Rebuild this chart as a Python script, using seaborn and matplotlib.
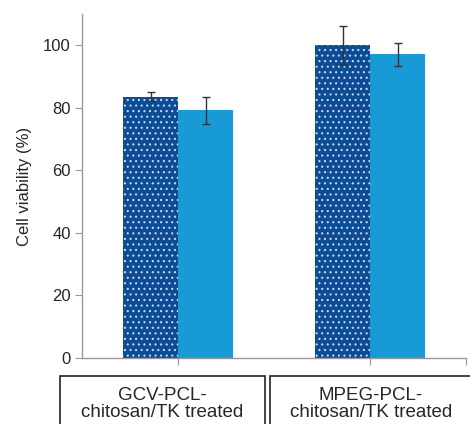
import numpy as np
import pandas as pd
import matplotlib
matplotlib.use("Agg")
from matplotlib import pyplot as plt
from matplotlib.patches import Rectangle
import seaborn as sns

groups = ["GCV-PCL-\nchitosan/TK treated", "MPEG-PCL-\nchitosan/TK treated"]
series = ["A", "B"]
values_a = [83.6, 100.0]
values_b = [79.2, 97.1]
err_a = [1.4, 6.3]
err_b = [4.3, 3.6]

df = pd.DataFrame({
    "group": groups * 2,
    "series": [series[0]] * 2 + [series[1]] * 2,
    "value": values_a + values_b,
    "err": err_a + err_b,
})

sns.set_style("white")
plt.rcParams['font.family'] = ['Liberation Sans', 'DejaVu Sans']
plt.rcParams['hatch.linewidth'] = 0.8

fig = plt.figure(figsize=(4.7, 4.24), dpi=100)
ax = fig.add_axes([0.1745, 0.1557, 0.817, 0.8113])

colors = ["#0B4C95", "#189AD6"]
sns.barplot(data=df, x="group", y="value", hue="series", palette=colors,
            width=0.573, errorbar=None, legend=False, ax=ax, saturation=1)

# 点状图案 + 误差线
bar_conts = list(ax.containers)
for i, cont in enumerate(bar_conts):
    sub = df[df["series"] == series[i]]
    xs = [p.get_x() + p.get_width() / 2 for p in cont.patches]
    for p in cont.patches:
        p.set_linewidth(0)
        if i == 0:
            p.set_hatch("...")
            p.set_edgecolor("#c8d6ea")
    ax.errorbar(xs, sub["value"].values, yerr=sub["err"].values, fmt="none",
                ecolor="#333333", elinewidth=1, capsize=3, capthick=1)

ax.set_ylim(0, 110)
ax.set_xlim(-0.5, 1.5)
ax.set_yticks([0, 20, 40, 60, 80, 100])
ax.set_xticks([0, 1, 1.5])
ax.set_xticklabels([])
ax.set_xlabel("")
ax.set_ylabel("Cell viability (%)", fontsize=12, labelpad=8)
ax.tick_params(axis="y", labelsize=12, length=5, color="#999999", left=True, pad=3)
ax.tick_params(axis="x", length=5, color="#999999", bottom=True)
for s in ["top", "right"]:
    ax.spines[s].set_visible(False)
for s in ["left", "bottom"]:
    ax.spines[s].set_color("#999999")
    ax.spines[s].set_linewidth(1)

# 下方分组标签框
boxes = [(60, 265), (270, 472)]
for (x0, x1), lab in zip(boxes, groups):
    fig.patches.append(Rectangle((x0 / 470, -0.02), (x1 - x0) / 470, (424 - 376) / 424 + 0.02,
                                 transform=fig.transFigure, fill=False,
                                 edgecolor="#222222", linewidth=1.2))
    fig.text((x0 + x1) / 2 / 470, 1 - 404 / 424, lab, ha="center", va="center",
             fontsize=13.5, linespacing=1.05)

fig.savefig("out.png", dpi=100)
